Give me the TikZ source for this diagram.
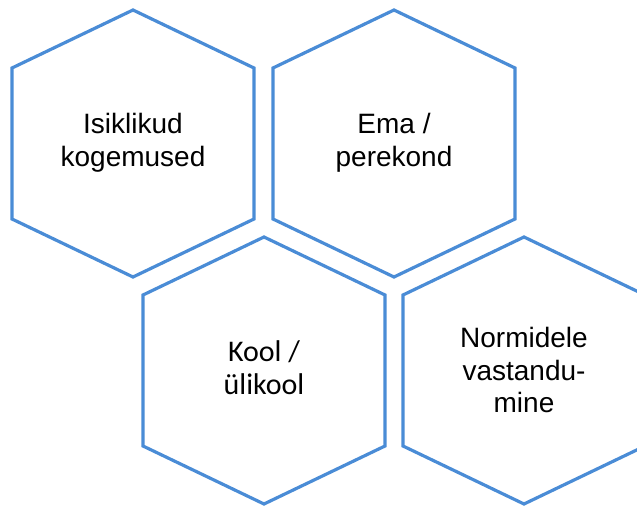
\documentclass[tikz,border=0pt]{standalone}
\usepackage{fontspec}
\setmainfont{Liberation Sans}
\newfontfamily\koolfont{Carlito}
\definecolor{hexblue}{RGB}{74,140,214}
\tikzset{
  hexline/.style={draw=hexblue, line width=2.4pt, line join=miter},
  hextext/.style={align=center, font=\fontsize{21}{24.5}\selectfont, text=black, inner sep=0pt}
}
\begin{document}
\begin{tikzpicture}[x=0.75pt, y=-0.75pt]
\clip (0,0) rectangle (637,506);
\useasboundingbox (0,0) rectangle (637,506);
\foreach \cx/\cy in {133/143.5, 394/143.5, 264/370.5, 524/370.5}{
  \draw[hexline] (\cx,\cy-133.5) -- (\cx+121,\cy-75.5) -- (\cx+121,\cy+75.5)
    -- (\cx,\cy+133.5) -- (\cx-121,\cy+75.5) -- (\cx-121,\cy-75.5) -- cycle;
}
\node[hextext] (t1) at (133,143) {Isiklikud\\kogemused};
\node[hextext] (t2) at (394,143) {Ema /\\perekond};
\node[hextext, font=\koolfont\fontsize{22.5}{25}\selectfont] (t3) at (264,368) {Kool /\\ülikool};
\node[hextext] (t4) at (524,370) {Normidele\\vastandu-\\mine};
\end{tikzpicture}
\end{document}
